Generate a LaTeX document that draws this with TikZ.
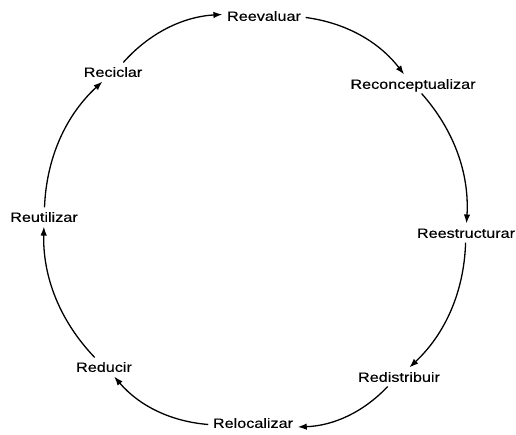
\documentclass[tikz,border=0pt]{standalone}
\usepackage{fontspec}
\setmainfont{Liberation Sans}[FakeStretch=1.2,FakeBold=0.3]
\usetikzlibrary{arrows.meta}
\begin{document}
\begin{tikzpicture}[x=1pt,y=-1pt,
  lbl/.style={font=\fontsize{13.5}{16}\selectfont, inner sep=4.5pt, text height=9.7pt, text depth=0pt},
  flow/.style={line width=1.3pt, -{Latex[length=9pt,width=6.5pt]}, bend left=22.5, looseness=0.92}]
\useasboundingbox (0,0) rectangle (516,434);
\node[lbl] (ev) at (264,16)  {Reevaluar};
\node[lbl] (rc) at (413,84)  {Reconceptualizar};
\node[lbl] (es) at (466,233) {Reestructurar};
\node[lbl] (rd) at (399,377) {Redistribuir};
\node[lbl] (rl) at (253,423) {Relocalizar};
\node[lbl] (du) at (104,367) {Reducir};
\node[lbl] (ru) at (44,217)  {Reutilizar};
\node[lbl] (ci) at (113,72)  {Reciclar};
\draw[flow] (ev) to (rc);
\draw[flow] (rc) to (es);
\draw[flow] (es) to (rd);
\draw[flow] (rd) to (rl);
\draw[flow] (rl) to (du);
\draw[flow] (du) to (ru);
\draw[flow] (ru) to (ci);
\draw[flow] (ci) to (ev);
\end{tikzpicture}
\end{document}
